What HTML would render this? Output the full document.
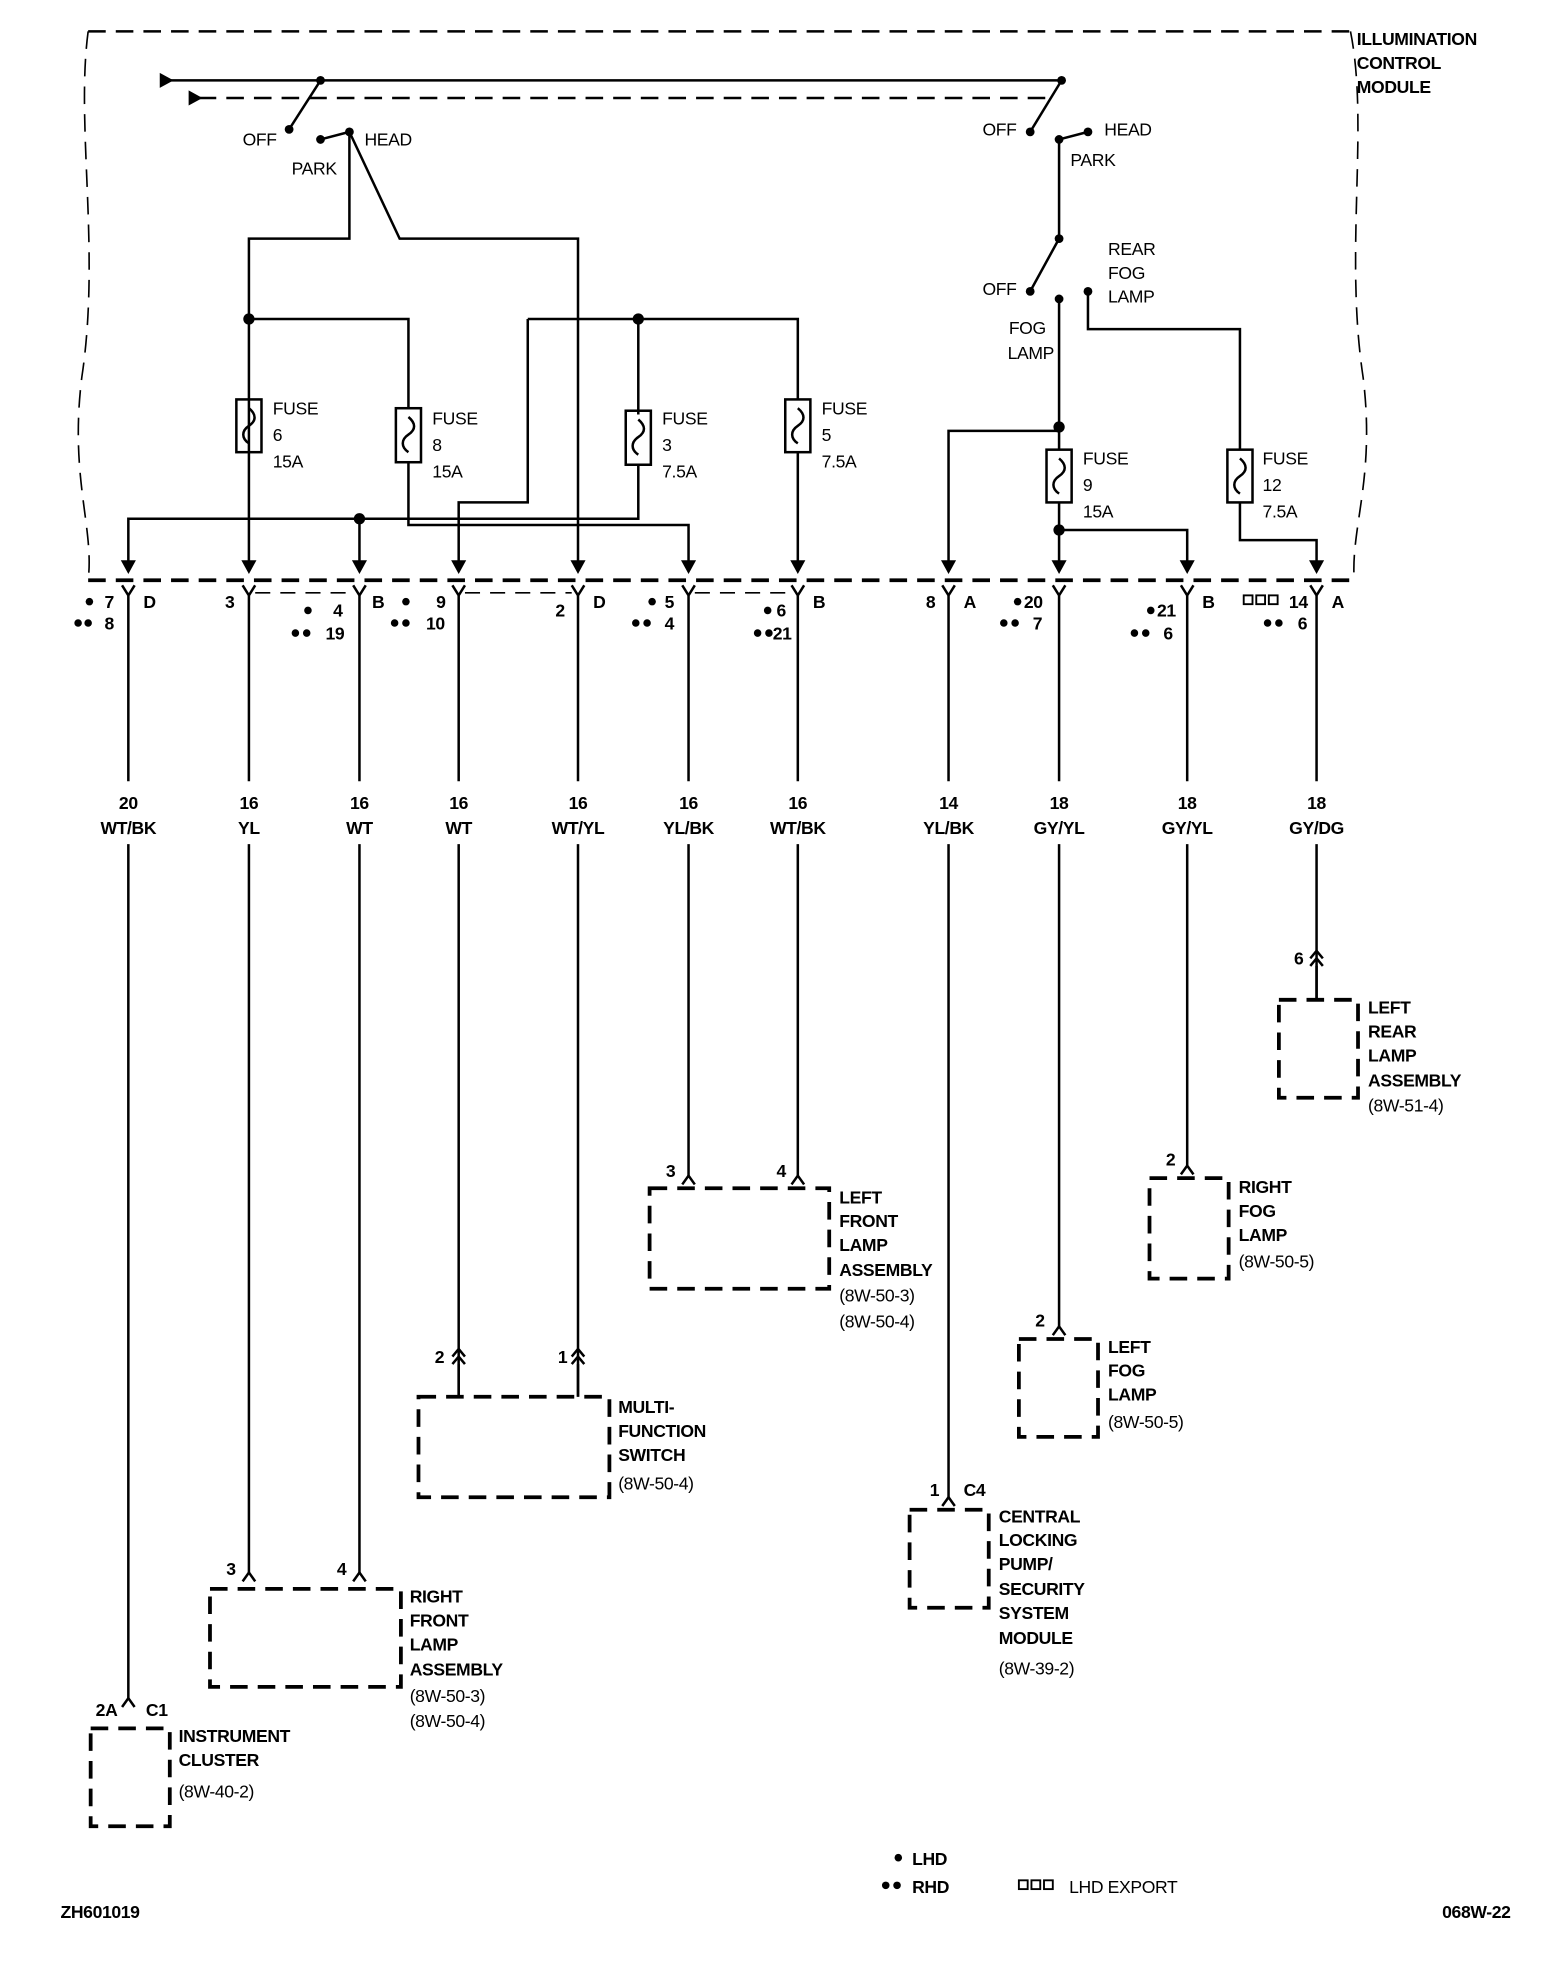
<!DOCTYPE html>
<html><head><meta charset="utf-8"><style>
html,body{margin:0;padding:0;background:#fff}
svg{display:block}
text{font-family:"Liberation Sans",sans-serif;font-size:14px;font-weight:bold;fill:#000;letter-spacing:-0.3px}
.n{font-weight:normal}
</style></head><body>
<svg width="1568" height="1972" viewBox="0 0 1248 1570" xmlns="http://www.w3.org/2000/svg">
<g fill="none" stroke="#000" stroke-width="2">
<path d="M70 25 H1075" stroke-dasharray="14 8"/>
<path d="M70 25 C60 100 80 200 65 300 C55 380 75 420 70 462" stroke-dasharray="14 8" stroke-width="1.3"/>
<path d="M1075 25 C1090 100 1070 200 1085 300 C1095 380 1075 420 1078 462" stroke-dasharray="14 8" stroke-width="1.3"/>
<path d="M70 462 H1078" stroke-dasharray="14 8" stroke-width="3"/>
<path d="M135 64 H845"/>
<path d="M158 78 H840" stroke-dasharray="14 8"/>
<path d="M255 64 L230 103"/>
<path d="M255 111 L278 105"/>
<path d="M278 105 V190 H198 V455"/>
<path d="M278 105 L318 190 H460 V455"/>
<path d="M198 254 H325 V325 M325 368 V418 H548 V455"/>
<path d="M102 455 V413 H508 V370 M508 330 V254"/>
<path d="M286 413 V455"/>
<path d="M420 254 H635 V318 M635 360 V455"/>
<path d="M420 254 V400 H365 V455"/>
<path d="M845 64 L820 105"/>
<path d="M843 111 L866 105"/>
<path d="M843 111 V190 L820 232"/>
<path d="M843 238 V358 M843 400 V455"/>
<path d="M843 343 H755 V455"/>
<path d="M843 422 H945 V455"/>
<path d="M866 232 V262 H987 V358 M987 400 V430 H1048 V455"/>
<rect x="188" y="318" width="20" height="42"/><path d="M198 325 c6 5 6 10 0 14 c-6 4 -6 10 0 14"/>
<rect x="315" y="325" width="20" height="43"/><path d="M325 332 c6 5 6 10 0 14 c-6 4 -6 10 0 14"/>
<rect x="498" y="327" width="20" height="43"/><path d="M508 334 c6 5 6 10 0 14 c-6 4 -6 10 0 14"/>
<rect x="625" y="318" width="20" height="42"/><path d="M635 325 c6 5 6 10 0 14 c-6 4 -6 10 0 14"/>
<rect x="833" y="358" width="20" height="42"/><path d="M843 365 c6 5 6 10 0 14 c-6 4 -6 10 0 14"/>
<rect x="977" y="358" width="20" height="42"/><path d="M987 365 c6 5 6 10 0 14 c-6 4 -6 10 0 14"/>
<path d="M97 466 L102 474 L107 466 M102 474 V622 M102 672 V1352"/>
<path d="M193 466 L198 474 L203 466 M198 474 V622 M198 672 V1252"/>
<path d="M281 466 L286 474 L291 466 M286 474 V622 M286 672 V1252"/>
<path d="M360 466 L365 474 L370 466 M365 474 V622 M365 672 V1112"/>
<path d="M455 466 L460 474 L465 466 M460 474 V622 M460 672 V1112"/>
<path d="M543 466 L548 474 L553 466 M548 474 V622 M548 672 V936"/>
<path d="M630 466 L635 474 L640 466 M635 474 V622 M635 672 V936"/>
<path d="M750 466 L755 474 L760 466 M755 474 V622 M755 672 V1192"/>
<path d="M838 466 L843 474 L848 466 M843 474 V622 M843 672 V1056"/>
<path d="M940 466 L945 474 L950 466 M945 474 V622 M945 672 V928"/>
<path d="M1043 466 L1048 474 L1053 466 M1048 474 V622 M1048 672 V796"/>
<path d="M203 472 H281 M370 472 H455 M553 472 H630" stroke-width="1.3" stroke-dasharray="12 8"/>
<path d="M97 1359 L102 1352 L107 1359"/>
<path d="M193 1259 L198 1252 L203 1259 M281 1259 L286 1252 L291 1259"/>
<path d="M360 1080 L365 1074 L370 1080 M360 1086 L365 1080 L370 1086 M365 1086 V1112"/>
<path d="M455 1080 L460 1074 L465 1080 M455 1086 L460 1080 L465 1086 M460 1086 V1112"/>
<path d="M543 943 L548 936 L553 943 M630 943 L635 936 L640 943"/>
<path d="M750 1199 L755 1192 L760 1199"/>
<path d="M838 1063 L843 1056 L848 1063"/>
<path d="M940 935 L945 928 L950 935"/>
<path d="M1043 763 L1048 757 L1053 763 M1043 769 L1048 763 L1053 769 M1048 769 V796"/>
<g stroke-width="3" stroke-dasharray="14 8">
<rect x="72" y="1376" width="63" height="78"/>
<rect x="167" y="1265" width="152" height="78"/>
<rect x="333" y="1112" width="152" height="80"/>
<rect x="517" y="946" width="143" height="80"/>
<rect x="724" y="1202" width="63" height="78"/>
<rect x="811" y="1066" width="63" height="78"/>
<rect x="915" y="938" width="63" height="80"/>
<rect x="1018" y="796" width="63" height="78"/>
</g>
</g>
<g fill="#000">
<path d="M127 58 L138 64 L127 70Z"/><path d="M150 72 L161 78 L150 84Z"/>
<circle cx="255" cy="64" r="3.5"/><circle cx="230" cy="103" r="3.5"/><circle cx="255" cy="111" r="3.5"/><circle cx="278" cy="105" r="3.5"/>
<circle cx="845" cy="64" r="3.5"/><circle cx="820" cy="105" r="3.5"/><circle cx="843" cy="111" r="3.5"/><circle cx="866" cy="105" r="3.5"/>
<circle cx="843" cy="190" r="3.5"/><circle cx="820" cy="232" r="3.5"/><circle cx="843" cy="238" r="3.5"/><circle cx="866" cy="232" r="3.5"/>
<circle cx="198" cy="254" r="4.5"/><circle cx="508" cy="254" r="4.5"/><circle cx="286" cy="413" r="4.5"/><circle cx="843" cy="340" r="4.5"/><circle cx="843" cy="422" r="4.5"/>
<path d="M96 446 L102 457 L108 446Z M192 446 L198 457 L204 446Z M280 446 L286 457 L292 446Z M359 446 L365 457 L371 446Z M454 446 L460 457 L466 446Z M542 446 L548 457 L554 446Z M629 446 L635 457 L641 446Z M749 446 L755 457 L761 446Z M837 446 L843 457 L849 446Z M939 446 L945 457 L951 446Z M1042 446 L1048 457 L1054 446Z"/>
<circle cx="71" cy="479" r="3"/><circle cx="62" cy="496" r="3"/><circle cx="70" cy="496" r="3"/>
<circle cx="245" cy="486" r="3"/><circle cx="235" cy="504" r="3"/><circle cx="244" cy="504" r="3"/>
<circle cx="323" cy="479" r="3"/><circle cx="314" cy="496" r="3"/><circle cx="323" cy="496" r="3"/>
<circle cx="519" cy="479" r="3"/><circle cx="506" cy="496" r="3"/><circle cx="515" cy="496" r="3"/>
<circle cx="611" cy="486" r="3"/><circle cx="603" cy="504" r="3"/><circle cx="612" cy="504" r="3"/>
<circle cx="810" cy="479" r="3"/><circle cx="799" cy="496" r="3"/><circle cx="808" cy="496" r="3"/>
<circle cx="916" cy="486" r="3"/><circle cx="903" cy="504" r="3"/><circle cx="912" cy="504" r="3"/>
<circle cx="1009" cy="496" r="3"/><circle cx="1018" cy="496" r="3"/>
<circle cx="715" cy="1479" r="3"/><circle cx="705" cy="1501" r="3"/><circle cx="714" cy="1501" r="3"/>
</g>
<g fill="none" stroke="#000" stroke-width="1.5">
<rect x="990" y="474" width="7" height="7"/><rect x="1000" y="474" width="7" height="7"/><rect x="1010" y="474" width="7" height="7"/>
<rect x="811" y="1497" width="7" height="7"/><rect x="821" y="1497" width="7" height="7"/><rect x="831" y="1497" width="7" height="7"/>
</g>
<g class="n">
<text x="1080" y="36">ILLUMINATION</text><text x="1080" y="55">CONTROL</text><text x="1080" y="74">MODULE</text>
<text x="193" y="116" class="n">OFF</text><text x="290" y="116" class="n">HEAD</text><text x="232" y="139" class="n">PARK</text>
<text x="782" y="108" class="n">OFF</text><text x="879" y="108" class="n">HEAD</text><text x="852" y="132" class="n">PARK</text>
<text x="782" y="235" class="n">OFF</text><text x="882" y="203" class="n">REAR</text><text x="882" y="222" class="n">FOG</text><text x="882" y="241" class="n">LAMP</text>
<text x="803" y="266" class="n">FOG</text><text x="802" y="286" class="n">LAMP</text>
<text x="217" y="330" class="n">FUSE</text><text x="217" y="351" class="n">6</text><text x="217" y="372" class="n">15A</text>
<text x="344" y="338" class="n">FUSE</text><text x="344" y="359" class="n">8</text><text x="344" y="380" class="n">15A</text>
<text x="527" y="338" class="n">FUSE</text><text x="527" y="359" class="n">3</text><text x="527" y="380" class="n">7.5A</text>
<text x="654" y="330" class="n">FUSE</text><text x="654" y="351" class="n">5</text><text x="654" y="372" class="n">7.5A</text>
<text x="862" y="370" class="n">FUSE</text><text x="862" y="391" class="n">9</text><text x="862" y="412" class="n">15A</text>
<text x="1005" y="370" class="n">FUSE</text><text x="1005" y="391" class="n">12</text><text x="1005" y="412" class="n">7.5A</text>
</g>
<g>
<text x="83" y="484">7</text><text x="114" y="484">D</text><text x="83" y="501">8</text>
<text x="179" y="484">3</text><text x="265" y="491">4</text><text x="259" y="509">19</text><text x="296" y="484">B</text>
<text x="347" y="484">9</text><text x="339" y="501">10</text>
<text x="442" y="491">2</text><text x="472" y="484">D</text>
<text x="529" y="484">5</text><text x="529" y="501">4</text>
<text x="618" y="491">6</text><text x="615" y="509">21</text><text x="647" y="484">B</text>
<text x="737" y="484">8</text><text x="767" y="484">A</text>
<text x="815" y="484">20</text><text x="822" y="501">7</text>
<text x="921" y="491">21</text><text x="926" y="509">6</text><text x="957" y="484">B</text>
<text x="1026" y="484">14</text><text x="1060" y="484">A</text><text x="1033" y="501">6</text>
</g>
<g text-anchor="middle">
<text x="102" y="644">20</text><text x="102" y="664">WT/BK</text>
<text x="198" y="644">16</text><text x="198" y="664">YL</text>
<text x="286" y="644">16</text><text x="286" y="664">WT</text>
<text x="365" y="644">16</text><text x="365" y="664">WT</text>
<text x="460" y="644">16</text><text x="460" y="664">WT/YL</text>
<text x="548" y="644">16</text><text x="548" y="664">YL/BK</text>
<text x="635" y="644">16</text><text x="635" y="664">WT/BK</text>
<text x="755" y="644">14</text><text x="755" y="664">YL/BK</text>
<text x="843" y="644">18</text><text x="843" y="664">GY/YL</text>
<text x="945" y="644">18</text><text x="945" y="664">GY/YL</text>
<text x="1048" y="644">18</text><text x="1048" y="664">GY/DG</text>
</g>
<g>
<text x="1030" y="768">6</text>
<text x="1089" y="807">LEFT</text><text x="1089" y="826">REAR</text><text x="1089" y="845">LAMP</text><text x="1089" y="865">ASSEMBLY</text><text x="1089" y="885" class="n">(8W-51-4)</text>
<text x="928" y="928">2</text>
<text x="986" y="950">RIGHT</text><text x="986" y="969">FOG</text><text x="986" y="988">LAMP</text><text x="986" y="1009" class="n">(8W-50-5)</text>
<text x="530" y="937">3</text><text x="618" y="937">4</text>
<text x="668" y="958">LEFT</text><text x="668" y="977">FRONT</text><text x="668" y="996">LAMP</text><text x="668" y="1016">ASSEMBLY</text><text x="668" y="1036" class="n">(8W-50-3)</text><text x="668" y="1057" class="n">(8W-50-4)</text>
<text x="824" y="1056">2</text>
<text x="882" y="1077">LEFT</text><text x="882" y="1096">FOG</text><text x="882" y="1115">LAMP</text><text x="882" y="1137" class="n">(8W-50-5)</text>
<text x="346" y="1085">2</text><text x="444" y="1085">1</text>
<text x="492" y="1125">MULTI-</text><text x="492" y="1144">FUNCTION</text><text x="492" y="1163">SWITCH</text><text x="492" y="1186" class="n">(8W-50-4)</text>
<text x="740" y="1191">1</text><text x="767" y="1191">C4</text>
<text x="795" y="1212">CENTRAL</text><text x="795" y="1231">LOCKING</text><text x="795" y="1250">PUMP/</text><text x="795" y="1270">SECURITY</text><text x="795" y="1289">SYSTEM</text><text x="795" y="1309">MODULE</text><text x="795" y="1333" class="n">(8W-39-2)</text>
<text x="180" y="1254">3</text><text x="268" y="1254">4</text>
<text x="326" y="1276">RIGHT</text><text x="326" y="1295">FRONT</text><text x="326" y="1314">LAMP</text><text x="326" y="1334">ASSEMBLY</text><text x="326" y="1355" class="n">(8W-50-3)</text><text x="326" y="1375" class="n">(8W-50-4)</text>
<text x="76" y="1366">2A</text><text x="116" y="1366">C1</text>
<text x="142" y="1387">INSTRUMENT</text><text x="142" y="1406">CLUSTER</text><text x="142" y="1431" class="n">(8W-40-2)</text>
<text x="726" y="1485">LHD</text><text x="726" y="1507">RHD</text>
<text x="851" y="1507" class="n">LHD EXPORT</text>
<text x="48" y="1527">ZH601019</text><text x="1148" y="1527">068W-22</text>
</g>
</svg>
</body></html>
